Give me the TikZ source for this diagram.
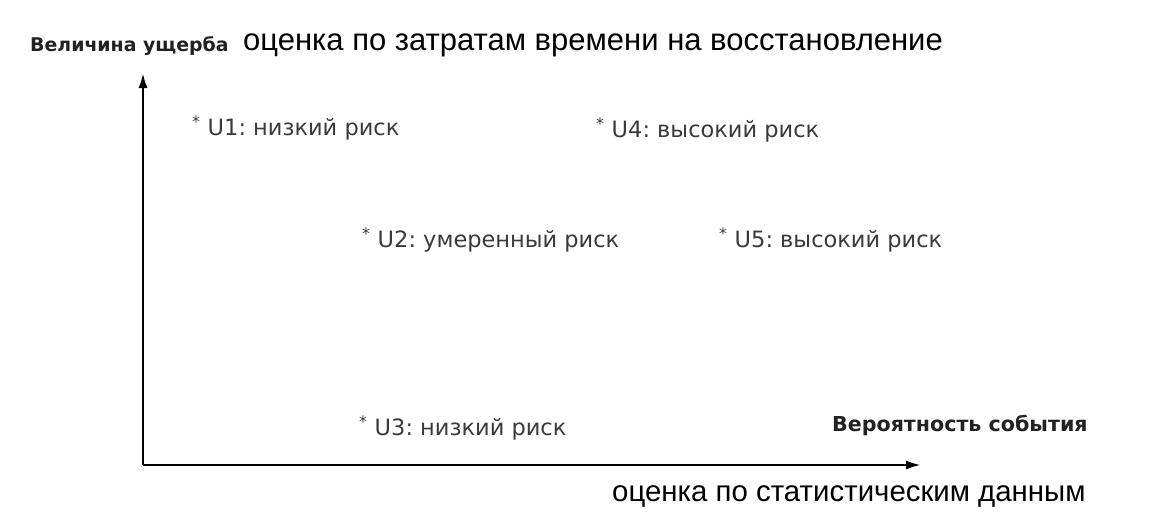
\documentclass[tikz,border=0pt]{standalone}
\usepackage{fontspec}
\setmainfont{Liberation Sans}
\newfontfamily\geofont{DejaVu Sans}
\usetikzlibrary{positioning,arrows.meta}
\definecolor{LabelGray}{HTML}{3A3A3A}
\definecolor{TitleGray}{HTML}{222222}
\frenchspacing

\begin{document}
\begin{tikzpicture}[
  x=1pt, y=-1pt,
  axis/.style={-{Latex[length=15pt,width=9pt]}, line width=2.4pt},
  risk/.style={anchor=west, inner sep=0pt, text=LabelGray,
               font=\geofont\fontsize{22.5}{26}\selectfont},
  ttl/.style={anchor=west, inner sep=0pt, text=TitleGray,
              font=\geofont\bfseries\fontsize{19.6}{23}\selectfont},
  note/.style={anchor=west, inner sep=0pt,
               font=\fontsize{30}{34}\selectfont}
]
\useasboundingbox (0,0) rectangle (1160,525);

% axes
\coordinate (orig) at (143,465);
\coordinate (ytip) at (143,73);
\coordinate (xtip) at (921,465);
\draw[axis] (orig) -- (ytip);
\draw[axis] (orig) -- (xtip);

% axis captions
\node[ttl, font=\geofont\bfseries\fontsize{18.9}{23}\selectfont] (ylab) at (30,46) {Величина ущерба};
\node[note, font=\fontsize{31}{34}\selectfont]   (ynote) at (243,45)  {оценка по затратам времени на восстановление};
\node[ttl, font=\geofont\bfseries\fontsize{20.6}{23}\selectfont] (xlab) at (832,425) {Вероятность события};
\node[note, font=\fontsize{29.4}{33}\selectfont] (xnote) at (612,497) {оценка по статистическим данным};

% risk points
\node[risk] (u1) at (192,128) {\textsuperscript{*} U1: низкий риск};
\node[risk] (u4) at (596,130) {\textsuperscript{*} U4: высокий риск};
\node[risk] (u2) at (362,240) {\textsuperscript{*} U2: умеренный риск};
\node[risk] (u5) at (719,240) {\textsuperscript{*} U5: высокий риск};
\node[risk] (u3) at (359,428) {\textsuperscript{*} U3: низкий риск};
\end{tikzpicture}
\end{document}
